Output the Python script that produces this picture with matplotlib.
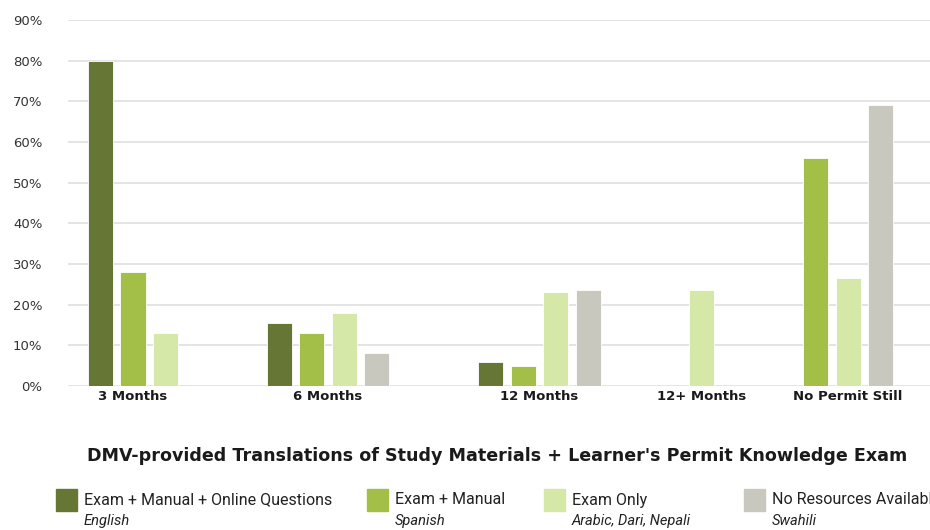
import matplotlib
matplotlib.use("Agg")
import matplotlib.pyplot as plt
from matplotlib.patches import Rectangle

categories = ["3 Months", "6 Months", "12 Months", "12+ Months", "No Permit Still"]
series_names = ["Exam + Manual + Online Questions", "Exam + Manual", "Exam Only", "No Resources Available"]
series_langs = ["English", "Spanish", "Arabic, Dari, Nepali", "Swahili"]
exam_manual_online = [80, 15.5, 6, 0, 0]
exam_manual = [28, 13, 5, 0, 56]
exam_only = [13, 18, 23, 23.5, 26.5]
no_resources = [0, 8, 23.5, 0, 69]
yticks = [0, 10, 20, 30, 40, 50, 60, 70, 80, 90]
title = "DMV-provided Translations of Study Materials + Learner's Permit Knowledge Exam"

colors = ["#667634", "#a4bf47", "#d6e8a8", "#c9c8bf"]
series = [exam_manual_online, exam_manual, exam_only, no_resources]

fig = plt.figure(figsize=(9.3, 5.3), dpi=100)
ax = fig.add_axes([68/930, 1-386/530, 1-68/930, (386-20)/530])

group_gap = 2.5
pos = 0.0
centers = []
for gi, cat in enumerate(categories):
    xs = []
    for si, s in enumerate(series):
        v = s[gi]
        if v > 0:
            ax.bar(pos, v, width=0.77, color=colors[si], edgecolor="white",
                   linewidth=0.6, zorder=3)
            xs.append(pos)
            pos += 1
    centers.append(sum(xs)/len(xs))
    pos += group_gap

ax.set_xlim(-1, 25.52)
ax.set_ylim(0, 90)
ax.set_yticks(yticks)
ax.set_yticklabels([f"{t}%" for t in yticks])
ax.set_xticks(centers)
ax.set_xticklabels(categories, fontweight="bold")
for sp in ax.spines.values():
    sp.set_visible(False)
ax.grid(axis="y", color="#e2e2e2", linewidth=1.3, zorder=0)
ax.tick_params(axis="y", length=0, pad=18.5, labelsize=9.5, labelcolor="#333333")
ax.tick_params(axis="x", length=0, pad=3, labelsize=9.5, labelcolor="#1a1a1a")

fig.text(497/930, 1-456/530, title, ha="center", va="center", fontsize=12.6,
         fontweight="bold", family="DejaVu Sans", color="#1a1a1a")

sw_x = [56, 367, 544, 744]
for i in range(4):
    fig.patches.append(Rectangle((sw_x[i]/930, 1-511/530), 21/930, 22/530,
                                 transform=fig.transFigure, color=colors[i]))
    fig.text((sw_x[i]+28)/930, 1-500/530, series_names[i], ha="left", va="center",
             fontsize=11.5, family="Roboto", color="#222222")
    fig.text((sw_x[i]+28)/930, 1-521/530, series_langs[i], ha="left", va="center",
             fontsize=10.5, family="Roboto", style="italic", color="#222222")

fig.savefig("out.png", dpi=100)
